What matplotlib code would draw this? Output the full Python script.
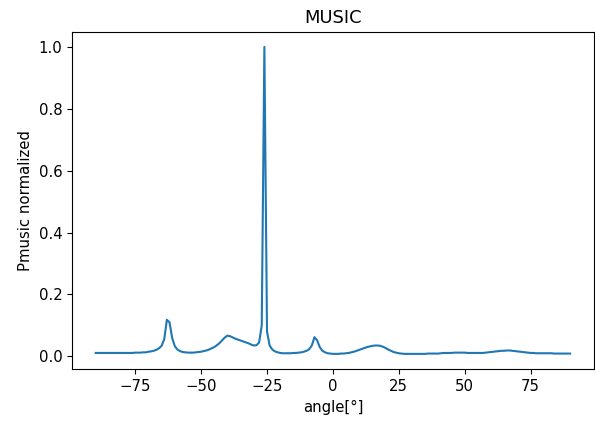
# MUSIC pseudo-spectrum, normalised
import numpy as np
import matplotlib.pyplot as plt

# scan angles in degrees, 1 degree step
angle = np.arange(-90, 91)

# normalised MUSIC power, one value per degree
pmusic = [
    # -90 .. -71
    0.011, 0.011, 0.011, 0.011, 0.011, 0.011, 0.011, 0.011, 0.011, 0.011,
    0.011, 0.011, 0.011, 0.011, 0.011, 0.012, 0.012, 0.012, 0.013, 0.013,
    # -70 .. -51
    0.015, 0.016, 0.018, 0.021, 0.026, 0.034, 0.055, 0.118, 0.110, 0.060,
    0.033, 0.022, 0.017, 0.014, 0.013, 0.012, 0.012, 0.012, 0.013, 0.014,
    # -50 .. -31
    0.015, 0.017, 0.019, 0.022, 0.026, 0.030, 0.036, 0.043, 0.052, 0.061,
    0.067, 0.065, 0.061, 0.057, 0.054, 0.051, 0.048, 0.045, 0.042, 0.038,
    # -30 .. -11
    0.035, 0.036, 0.045, 0.100, 1.000, 0.080, 0.035, 0.022, 0.016, 0.013,
    0.011, 0.010, 0.010, 0.010, 0.010, 0.011, 0.011, 0.012, 0.013, 0.015,
    # -10 .. 9
    0.018, 0.023, 0.035, 0.062, 0.052, 0.030, 0.018, 0.013, 0.010, 0.009,
    0.008, 0.008, 0.008, 0.009, 0.009, 0.010, 0.011, 0.013, 0.015, 0.018,
    # 10 .. 29
    0.021, 0.024, 0.027, 0.030, 0.032, 0.034, 0.035, 0.035, 0.034, 0.031,
    0.027, 0.022, 0.018, 0.014, 0.012, 0.010, 0.009, 0.008, 0.008, 0.008,
    # 30 .. 49
    0.008, 0.008, 0.008, 0.008, 0.008, 0.008, 0.009, 0.009, 0.009, 0.009,
    0.009, 0.010, 0.011, 0.011, 0.011, 0.011, 0.012, 0.012, 0.012, 0.012,
    # 50 .. 69
    0.012, 0.011, 0.011, 0.011, 0.011, 0.011, 0.011, 0.011, 0.012, 0.013,
    0.014, 0.015, 0.016, 0.017, 0.018, 0.018, 0.019, 0.019, 0.018, 0.017,
    # 70 .. 90
    0.016, 0.015, 0.014, 0.013, 0.012, 0.011, 0.011, 0.010, 0.010, 0.010,
    0.010, 0.010, 0.010, 0.010, 0.009, 0.009, 0.009, 0.009, 0.009, 0.009,
    0.009,
]

plt.rcParams['font.size'] = 10.7

fig = plt.figure(figsize=(5.95, 4.21), dpi=100)
ax = fig.add_axes([0.121, 0.123, 0.877, 0.802])

ax.plot(angle, pmusic, color='#1f77b4', lw=1.5)
ax.set_title('MUSIC')
ax.set_xlabel('angle[°]')
ax.set_ylabel('Pmusic normalized')
ax.set_xticks([-75, -50, -25, 0, 25, 50, 75])

fig.savefig('out.png', dpi=100)
